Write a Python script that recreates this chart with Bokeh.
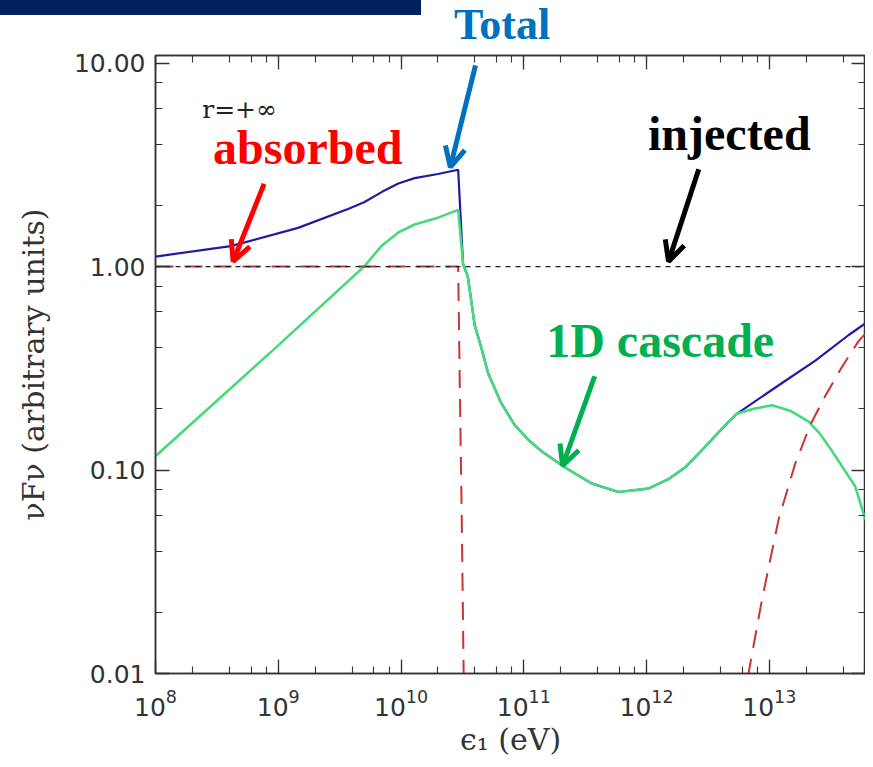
from bokeh.plotting import figure
from bokeh.layouts import column
from bokeh.models import (Range1d, LogAxis, LogTicker, PrintfTickFormatter, Label,
                          Arrow, OpenHead, CustomJSTickFormatter, Div)
from bokeh.embed import file_html
from bokeh.resources import INLINE

# ---------------- data ----------------
cascade_x = [1.0e8, 1.0e9, 5.0e9, 7.0e9, 9.5e9, 1.29e10, 2.0e10, 2.92e10, 3.2e10,
             3.5e10, 3.98e10, 4.5e10, 5.13e10, 6.5e10, 8.45e10, 1.1e11, 1.39e11,
             2.16e11, 3.56e11, 5.89e11, 1.03e12, 1.5e12, 2.06e12, 3.0e12, 4.0e12,
             4.94e12, 5.43e12, 7.5e12, 1.05e13, 1.5e13, 2.09e13, 2.6e13, 3.24e13,
             4.0e13, 5.01e13, 6.0e13, 7.2e13]
cascade_y = [0.117, 0.41, 1.0, 1.27, 1.47, 1.61, 1.74, 1.90, 1.03,
             0.893, 0.516, 0.40, 0.298, 0.215, 0.166, 0.140, 0.124,
             0.103, 0.086, 0.078, 0.081, 0.090, 0.103, 0.13, 0.157,
             0.179, 0.189, 0.20, 0.208, 0.195, 0.173, 0.150, 0.124,
             0.102, 0.083, 0.058, 0.0476]

total_x = [1.0e8, 4.1e8, 1.45e9, 3.7e9, 5.0e9, 7.0e9, 9.5e9, 1.29e10, 2.0e10, 2.92e10,
           3.2e10, 3.5e10, 3.98e10, 4.5e10, 5.13e10, 6.5e10, 8.45e10, 1.1e11, 1.39e11,
           2.16e11, 3.56e11, 5.89e11, 1.03e12, 1.5e12, 2.06e12, 3.0e12, 4.0e12,
           4.94e12, 5.43e12, 1.26e13, 2.37e13, 4.43e13, 7.2e13]
total_y = [1.12, 1.26, 1.55, 1.92, 2.07, 2.33, 2.56, 2.72, 2.85, 2.99,
           1.03, 0.893, 0.516, 0.40, 0.298, 0.215, 0.166, 0.140, 0.124,
           0.103, 0.086, 0.078, 0.081, 0.090, 0.103, 0.13, 0.157,
           0.179, 0.189, 0.267, 0.345, 0.461, 0.565]

absorbed_low_x = [1.0e8, 2.92e10, 3.0e10, 3.12e10, 3.25e10]
absorbed_low_y = [1.0, 1.0, 0.3, 0.06, 0.008]
absorbed_high_x = [6.1e12, 6.76e12, 8.68e12, 1.19e13, 1.62e13, 2.15e13, 2.85e13,
                   3.90e13, 5.33e13, 7.2e13]
absorbed_high_y = [0.007, 0.01, 0.0228, 0.0573, 0.107, 0.166, 0.231,
                   0.321, 0.430, 0.525]

injected_x = [1.0e8, 7.2e13]
injected_y = [1.0, 1.0]

y_tick_format = "%.2f"

# ---------------- header (slide bar + "Total") ----------------
header = Div(
    text=('<div style="position:relative;width:865px;height:49px;">'
          '<div style="position:absolute;left:0;top:0;width:421px;height:15px;'
          'background:#002060;"></div>'
          '<div style="position:absolute;left:454px;top:0px;height:49px;line-height:49px;'
          'font-family:\'Liberation Serif\';font-weight:bold;font-size:44px;'
          'color:#0070C0;white-space:nowrap;">Total</div></div>'),
    width=865, height=49, margin=(0, 0, 0, 0))

# ---------------- figure ----------------
AX = "#333333"
p = figure(width=865, height=710, x_axis_type="log", y_axis_type="log",
           x_range=Range1d(1e8, 6.07e13), y_range=Range1d(0.01, 10.9),
           output_backend="svg", toolbar_location=None,
           min_border_left=155, min_border_top=6, min_border_bottom=78,
           min_border_right=0, margin=(0, 0, 0, 0))
p.grid.visible = False
p.outline_line_color = AX
p.outline_line_width = 1.5
p.background_fill_color = "white"
p.border_fill_color = "white"

xticker = LogTicker(desired_num_ticks=7)
yticker = LogTicker()


def style_axis(ax):
    ax.axis_line_color = AX
    ax.axis_line_width = 1.5
    ax.major_tick_in = 14
    ax.major_tick_out = 0
    ax.minor_tick_in = 7
    ax.minor_tick_out = 0
    ax.major_tick_line_color = AX
    ax.minor_tick_line_color = AX
    ax.major_tick_line_width = 1.3
    ax.minor_tick_line_width = 1.1
    ax.major_label_text_font = "DejaVu Sans"
    ax.major_label_text_font_size = "25px"
    ax.major_label_text_color = AX
    ax.axis_label_text_font = "DejaVu Serif"
    ax.axis_label_text_font_size = "30px"
    ax.axis_label_text_font_style = "normal"
    ax.axis_label_text_color = AX


xa = p.xaxis[0]
xa.ticker = xticker
style_axis(xa)
xa.axis_label = "ϵ₁ (eV)"
xa.major_label_standoff = 15
xa.axis_label_standoff = 3

ya = p.yaxis[0]
ya.ticker = yticker
ya.formatter = PrintfTickFormatter(format=y_tick_format)
style_axis(ya)
ya.axis_label = "νFν (arbitrary units)"
ya.major_label_standoff = 10
ya.axis_label_standoff = 20

blank = CustomJSTickFormatter(code="return ''")
top = LogAxis(ticker=xticker, formatter=blank)
style_axis(top)
top.major_label_text_font_size = "2px"
top.major_label_standoff = 0
p.add_layout(top, "above")

right = LogAxis(ticker=yticker, formatter=blank)
style_axis(right)
right.major_label_text_font_size = "2px"
right.major_label_standoff = 0
p.add_layout(right, "right")

# ---------------- curves ----------------
p.line(total_x, total_y, line_color="#1c1ca8", line_width=2.2)
p.line(cascade_x, cascade_y, line_color="#48da7a", line_width=2.6)
p.line(absorbed_low_x, absorbed_low_y, line_color="#cc3333", line_width=2,
       line_dash="18 11")
p.line(absorbed_high_x, absorbed_high_y, line_color="#cc3333", line_width=2,
       line_dash="18 11")
p.line(injected_x, injected_y, line_color="#222222", line_width=1.3, line_dash="5 5")

# ---------------- annotations ----------------
SERIF = "Liberation Serif"
ann = [
    ("absorbed", 1.74e9, 3.84, "#FF0000", "48px"),
    ("injected", 4.72e12, 4.53, "#000000", "48px"),
    ("1D cascade", 1.29e12, 0.434, "#00B050", "48px"),
]
for txt, lx, ly, col, fs in ann:
    p.add_layout(Label(x=lx, y=ly, text=txt, text_color=col, text_font=SERIF,
                       text_font_style="bold", text_font_size=fs,
                       text_align="center", text_baseline="middle"))

p.add_layout(Label(x=2.4e8, y=5.89, text="r=+∞", text_color="#222222",
                   text_font="DejaVu Serif", text_font_size="25px",
                   text_align="left", text_baseline="middle"))

arrows = [
    (4.04e10, 9.75, 2.52e10, 3.08, "#0070C0"),
    (7.67e8, 2.55, 4.29e8, 1.06, "#FF0000"),
    (2.66e12, 3.01, 1.51e12, 1.06, "#000000"),
    (3.78e11, 0.289, 2.07e11, 0.105, "#00B050"),
]
for xs, ys, xe, ye, col in arrows:
    p.add_layout(Arrow(x_start=xs, y_start=ys, x_end=xe, y_end=ye,
                       line_color=col, line_width=5,
                       end=OpenHead(size=20, line_width=5, line_color=col)))

layout = column(header, p, spacing=0, margin=(0, 0, 0, 0))
open("out.html", "w").write(file_html(layout, INLINE))
